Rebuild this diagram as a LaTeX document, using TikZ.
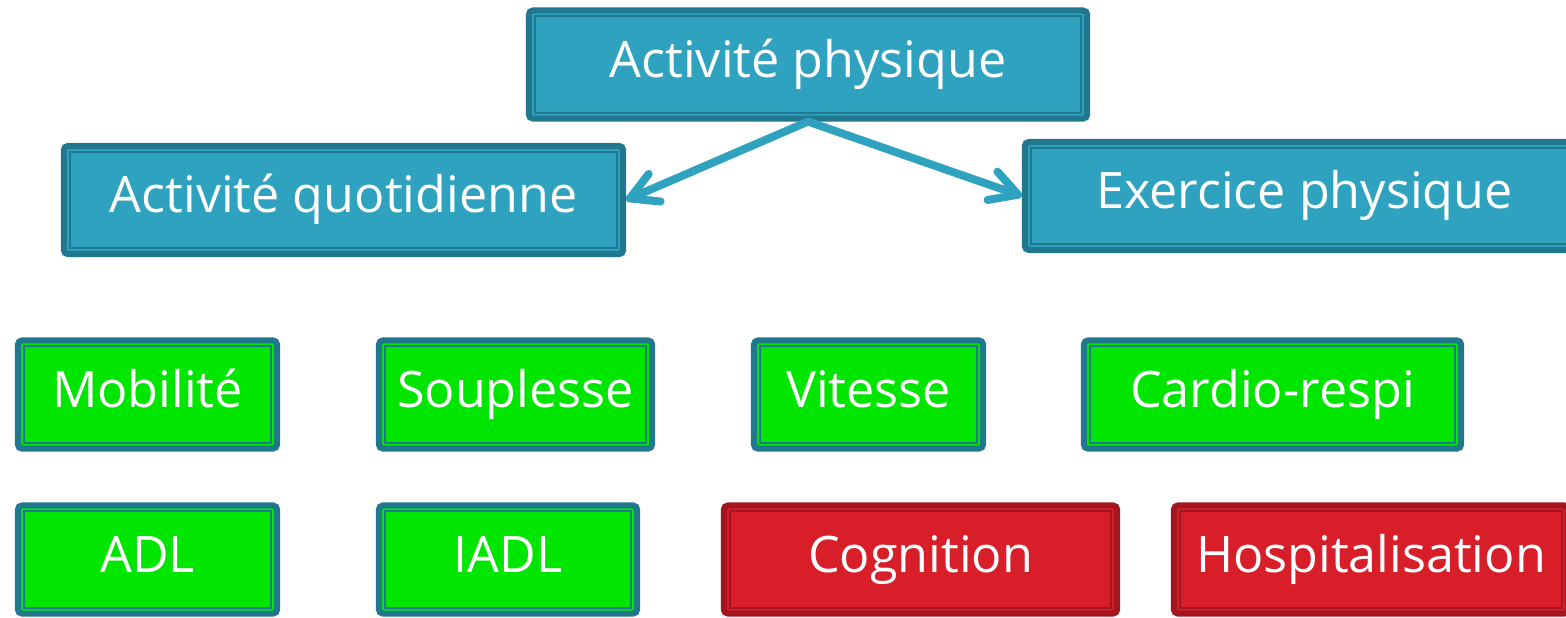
\documentclass[tikz,border=0pt]{standalone}
\usepackage{fontspec}
\setmainfont{Open Sans}
\usetikzlibrary{arrows.meta}

\definecolor{tealfill}{HTML}{2EA2BF}
\definecolor{tealdark}{HTML}{21788E}
\definecolor{greenfill}{HTML}{00E600}
\definecolor{redfill}{HTML}{D81F29}
\definecolor{reddark}{HTML}{A3151F}

\tikzset{
  box/.style={draw=#1, line width=0.06cm, rounded corners=0.04cm, text=white,
    minimum height=1.08cm, inner sep=0pt, text height=10.5pt, text depth=3.3pt,
    font=\fontsize{14.3}{17}\selectfont,
    path picture={\draw[#1, line width=0.02cm, sharp corners]
      ([shift={(0.06cm,-0.06cm)}]path picture bounding box.north west) rectangle
      ([shift={(-0.06cm,0.06cm)}]path picture bounding box.south east);}},
  bluebox/.style={box=tealdark, fill=tealfill},
  greenbox/.style={box=tealdark, fill=greenfill},
  redbox/.style={box=reddark, fill=redfill},
  arr/.style={draw=tealfill, line width=0.08cm, line cap=round,
    -{Straight Barb[length=0.27cm,width=0.3cm,round]}}
}

\begin{document}
\begin{tikzpicture}[x=0.01cm,y=-0.01cm]
      \useasboundingbox (0,0) rectangle (1566,617);
      \clip (0,0) rectangle (1566,617);
      \draw
        (808, 64.5) node[bluebox,minimum width=5.58cm] (0){Activité physique}
        (343.5, 200) node[bluebox,minimum width=5.59cm] (1){Activité quotidienne}
        (1304.5, 196) node[bluebox,minimum width=5.59cm] (2){Exercice physique}
        (147.5, 394.5) node[greenbox,minimum width=2.59cm] (3){Mobilité}
        (515.5, 394.5) node[greenbox,minimum width=2.73cm] (4){Souplesse}
        (868.5, 394.5) node[greenbox,minimum width=2.29cm] (5){Vitesse}
        (1272.5, 394.5) node[greenbox,minimum width=3.77cm] (6){Cardio-respi}
        (147.5, 559.5) node[greenbox,minimum width=2.59cm] (7){ADL}
        (508, 559.5) node[greenbox,minimum width=2.58cm] (8){IADL}
        (920.5, 559.5) node[redbox,minimum width=3.93cm] (9){Cognition}
        (1371, 559.5) node[redbox,minimum width=3.94cm] (10){Hospitalisation};
      \begin{scope}[arr]
        \draw (0.south) to (1.east);
        \draw (0.south) to (2.west);
      \end{scope}
    \end{tikzpicture}
\end{document}
